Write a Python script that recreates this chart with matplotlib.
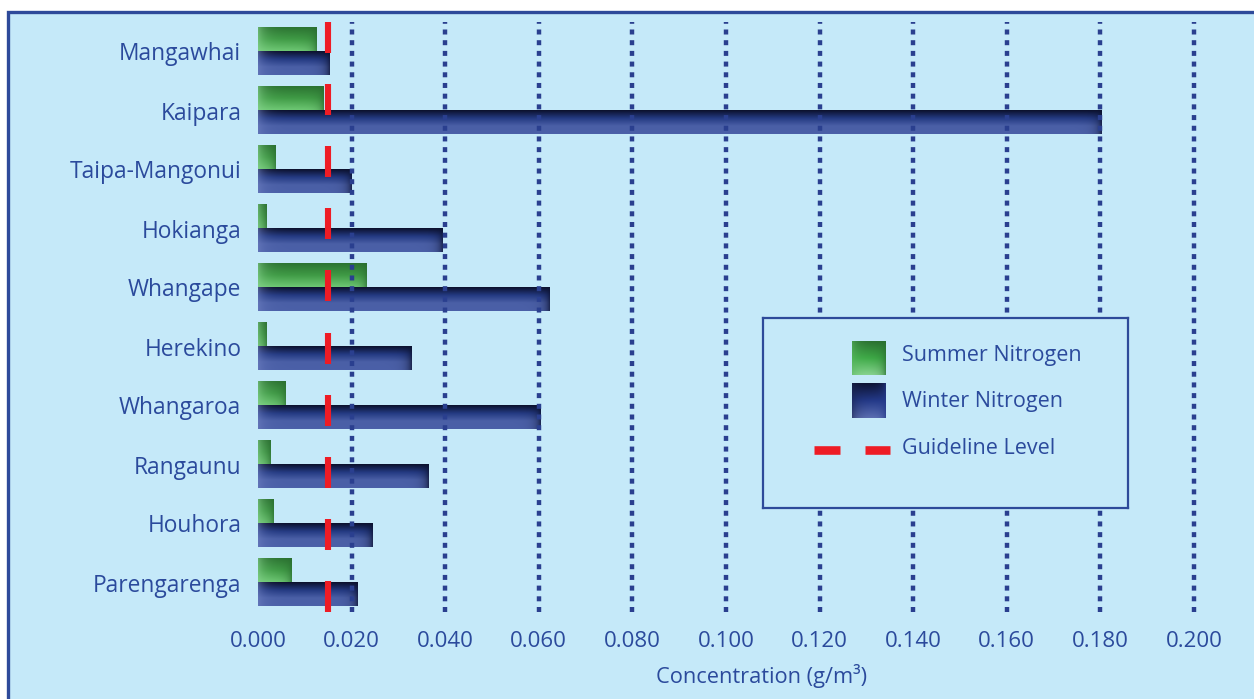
import numpy as np
import matplotlib
matplotlib.use("Agg")
import matplotlib.pyplot as plt
from matplotlib.patches import Rectangle

plt.rcParams["font.family"] = ["Open Sans", "DejaVu Sans"]
plt.rcParams["lines.scale_dashes"] = False

sites = ["Mangawhai", "Kaipara", "Taipa-Mangonui", "Hokianga", "Whangape",
         "Herekino", "Whangaroa", "Rangaunu", "Houhora", "Parengarenga"]
summer = [0.0124, 0.0141, 0.0038, 0.0019, 0.0231, 0.0019, 0.0058, 0.0026, 0.0034, 0.0071]
winter = [0.0152, 0.1803, 0.0200, 0.0395, 0.0622, 0.0329, 0.0603, 0.0365, 0.0244, 0.0212]
guideline = [0.015] * len(sites)
xticks = [0.0, 0.02, 0.04, 0.06, 0.08, 0.10, 0.12, 0.14, 0.16, 0.18, 0.20]

TXT = "#2b4a9c"
BG = "#c5e9f9"
RED = "#ee1c25"
GRID = "#2a3f8f"

W, H = 1254, 699
fig = plt.figure(figsize=(W / 100, H / 100), dpi=100)
fig.patch.set_facecolor("white")
# panel background with a dark blue border (left and top edges visible)
fig.patches.append(Rectangle((8 / W, -0.05), 1.1, 1 - 12 / H + 0.05, transform=fig.transFigure,
                             facecolor=BG, edgecolor="#2e4a9a", lw=2.4, zorder=-5))

# axes: x 0..0.2 spans px 258..1194, y spans px 22..612
ax = fig.add_axes([258 / W, 1 - 612 / H, 936 / W, 590 / H])
ax.set_facecolor("none")
px_per_unit = 936 / 0.2


def hexrgb(h):
    return np.array([int(h[i:i + 2], 16) / 255 for i in (1, 3, 5)])


def bar_image(wpx, stops, left, right, hpx=24):
    """Vertical gradient through stops, lighter left end and darker right end."""
    wpx = max(int(round(wpx)), 2)
    v = np.linspace(0, 1, hpx)
    pos = np.linspace(0, 1, len(stops))
    cols = np.stack([np.interp(v, pos, [hexrgb(s)[k] for s in stops]) for k in range(3)], axis=-1)
    img = np.repeat(cols[:, None, :], wpx, axis=1)
    u = np.arange(wpx)
    a = np.exp(-u / 7.0)[None, :, None] * 0.6
    b = np.exp(-(wpx - 1 - u) / 5.0)[None, :, None] * 0.7
    img = img * (1 - a) + hexrgb(left) * a
    img = img * (1 - b) + hexrgb(right) * b
    return np.clip(img, 0, 1)


green_stops = ["#2c7432", "#3f9a45", "#6cc672"]
navy_stops = ["#0c1230", "#243a82", "#4a5fa6", "#4b60a8"]

for i, (s, w) in enumerate(zip(summer, winter)):
    ax.imshow(bar_image(s * px_per_unit, green_stops, "#8ad592", "#2a6e30"),
              extent=[0, s, i - 0.01, i - 0.40], aspect="auto", interpolation="bilinear", zorder=2)
    ax.imshow(bar_image(w * px_per_unit, navy_stops, "#6f80c2", "#0c1230"),
              extent=[0, w, i + 0.40, i + 0.01], aspect="auto", interpolation="bilinear", zorder=2)

ax.vlines(xticks[1:], 0, 1, transform=ax.get_xaxis_transform(), colors=GRID, lw=3.2,
          linestyles=[(0, (3.6, 4.1))], zorder=3, clip_on=False)

ax.set_xlim(0, 0.2)
ax.set_ylim(9.5, -0.5)
ax.set_yticks(range(len(sites)))
ax.set_yticklabels(sites)
ax.set_xticks(xticks)
ax.set_xticklabels([f"{t:.3f}" for t in xticks])
ax.tick_params(axis="y", length=0, pad=12, labelsize=16.4, labelcolor=TXT)
ax.tick_params(axis="x", length=0, pad=14, labelsize=16, labelcolor=TXT)
for sp in ax.spines.values():
    sp.set_visible(False)

# guideline on a secondary category axis
ax2 = ax.twinx()
ax2.set_ylim(9.25, -0.25)
ax2.vlines(guideline, np.arange(len(sites)) - 0.25, np.arange(len(sites)) + 0.25,
           colors=RED, lw=4.4, zorder=4)
ax2.set_yticks([])
for sp in ax2.spines.values():
    sp.set_visible(False)
ax2.set_xlim(0, 0.2)

fig.text(762 / W, 1 - 676 / H, "Concentration (g/m³)", ha="center", va="center",
         fontsize=15.7, color=TXT)

# legend box
lg = fig.add_axes([763 / W, 1 - 508 / H, 365 / W, 190 / H])
lg.set_facecolor(BG)
lg.set_xticks([])
lg.set_yticks([])
for sp in lg.spines.values():
    sp.set_color("#2e4a9a")
    sp.set_linewidth(1.6)
lg.imshow(bar_image(34, ["#2a7030", "#3daa46", "#8ad592"], "#5cb863", "#2a7030", hpx=34),
          extent=[89, 123, 57, 23], aspect="auto", interpolation="bilinear")
lg.imshow(bar_image(34, ["#0c1230", "#243a8a", "#5f72b6"], "#1a2550", "#243a8a", hpx=34),
          extent=[89, 123, 100, 65], aspect="auto", interpolation="bilinear")
lg.plot([51, 77], [132, 132], color=RED, lw=6.2, solid_capstyle="butt")
lg.plot([102, 127], [132, 132], color=RED, lw=6.2, solid_capstyle="butt")
for y, label in [(37, "Summer Nitrogen"), (83, "Winter Nitrogen"), (130, "Guideline Level")]:
    lg.text(139, y, label, ha="left", va="center", fontsize=15.5, color=TXT)
lg.set_xlim(0, 365)
lg.set_ylim(190, 0)

fig.savefig("out.png", dpi=100)
